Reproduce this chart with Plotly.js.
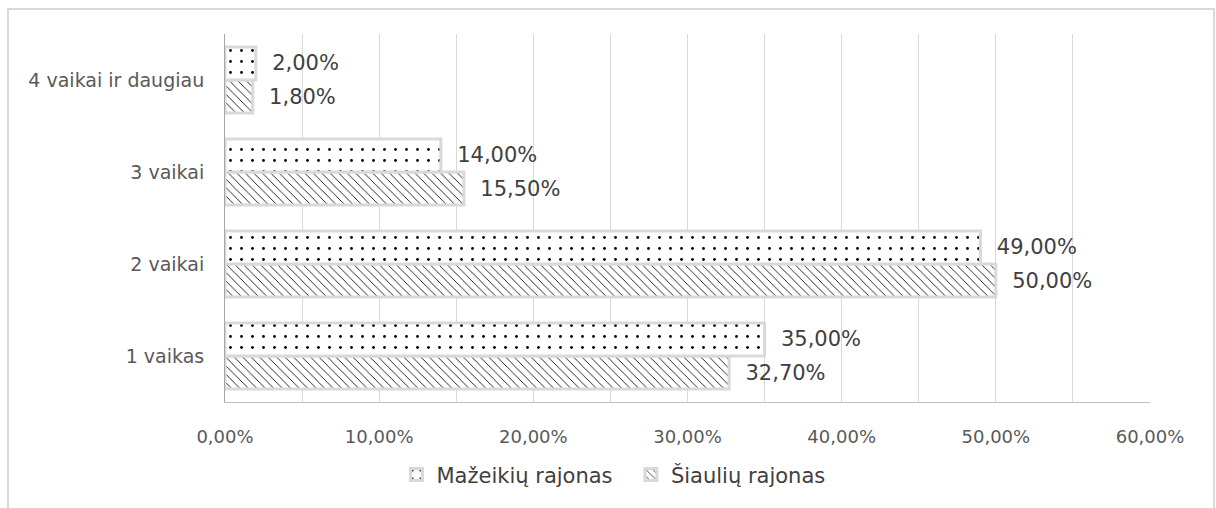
<!DOCTYPE html>
<html>
<head>
<meta charset="utf-8">
<script src="https://cdn.plot.ly/plotly-3.0.1.min.js"></script>
<style>html,body{margin:0;padding:0;background:#fff;}#chart{width:1216px;height:508px;}</style>
</head>
<body>
<div id="chart"></div>
<script>
const categories = ['1 vaikas', '2 vaikai', '3 vaikai', '4 vaikai ir daugiau'];
const seriesNames = ['Mažeikių rajonas', 'Šiaulių rajonas'];
const mazeikiai = [0.35, 0.49, 0.14, 0.02];
const siauliai = [0.327, 0.50, 0.155, 0.018];
const xTickVals = [0, 0.1, 0.2, 0.3, 0.4, 0.5, 0.6];

const FONT = 'DejaVu Sans, sans-serif';
const labelFont = {family: FONT, size: 21, color: '#404040'};

const traceS = {
  type: 'bar', orientation: 'h', name: seriesNames[1],
  y: categories, x: siauliai,
  marker: {color: '#ffffff', line: {color: '#d9d9d9', width: 3},
    pattern: {shape: '\\', size: 6, solidity: 0.15, fgcolor: '#111', bgcolor: '#ffffff'}},
  texttemplate: '\u00a0\u00a0%{x:.2%}', textposition: 'outside', textfont: labelFont,
  cliponaxis: false, legendrank: 2, hoverinfo: 'skip'
};
const traceM = {
  type: 'bar', orientation: 'h', name: seriesNames[0] + '\u00a0\u00a0',
  y: categories, x: mazeikiai,
  marker: {color: '#ffffff', line: {color: '#d9d9d9', width: 3},
    pattern: {shape: '.', size: 11, solidity: 0.05, fgcolor: '#000', bgcolor: '#ffffff'}},
  texttemplate: '\u00a0\u00a0%{x:.2%}', textposition: 'outside', textfont: labelFont,
  cliponaxis: false, legendrank: 1, hoverinfo: 'skip'
};

const layout = {
  width: 1216, height: 508,
  margin: {l: 225, r: 66, t: 34, b: 106},
  paper_bgcolor: '#ffffff', plot_bgcolor: '#ffffff',
  separators: ',.',
  barmode: 'group', bargap: 0.28, bargroupgap: 0,
  font: {family: FONT, color: '#595959'},
  xaxis: {
    range: [0, 0.6], tickvals: xTickVals, tickformat: '.2%',
    showgrid: true, gridcolor: '#d9d9d9', gridwidth: 1,
    minor: {dtick: 0.05, tick0: 0, showgrid: true, gridcolor: '#d9d9d9', gridwidth: 1},
    zeroline: false, showline: true, linecolor: '#bfbfbf', linewidth: 1,
    ticks: '', ticklabelstandoff: 18,
    tickfont: {family: FONT, size: 18, color: '#595959'}
  },
  yaxis: {
    type: 'category', showgrid: false, zeroline: false,
    showline: true, linecolor: '#a6a6a6', linewidth: 1,
    ticks: '', ticklabelstandoff: 16,
    tickfont: {family: FONT, size: 19, color: '#595959'}
  },
  showlegend: true,
  legend: {orientation: 'h', x: 0.42, xanchor: 'center', y: -0.198, yanchor: 'middle',
    font: {family: FONT, size: 21, color: '#404040'}, itemwidth: 30, tracegroupgap: 0},
  shapes: [{type: 'rect', xref: 'paper', yref: 'paper',
    x0: (8 - 225) / 925, x1: (1214 - 225) / 925, y0: -0.6, y1: (402 - 9) / 368,
    line: {color: '#d9d9d9', width: 2}, fillcolor: 'rgba(0,0,0,0)', layer: 'below'}]
};

Plotly.newPlot('chart', [traceS, traceM], layout, {displayModeBar: false, staticPlot: true});
</script>
</body>
</html>
